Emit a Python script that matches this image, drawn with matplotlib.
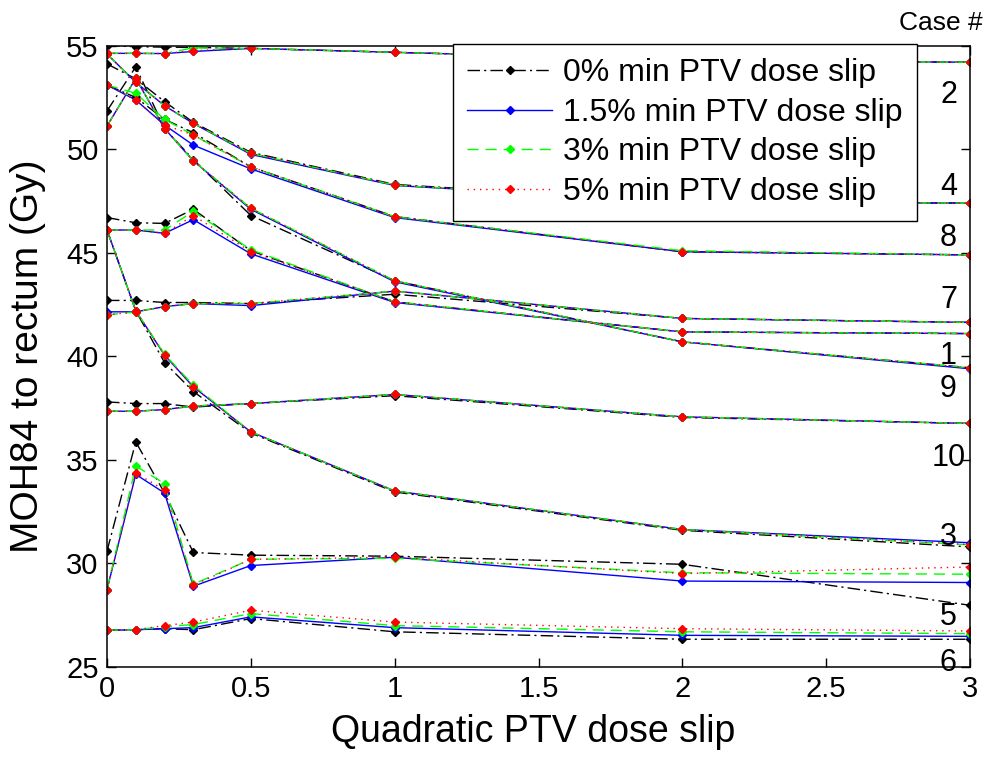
import matplotlib
matplotlib.use('Agg')
from matplotlib import pyplot as plt

# Quadratic PTV dose slip values (x axis)
slip = [0, 0.1, 0.2, 0.3, 0.5, 1, 2, 3]

# MOH84 per case, rows: 0%, 1.5%, 3%, 5% min PTV dose slip
case_2 = [[55.0, 54.95, 54.93, 54.92, 54.87, 54.68, 54.3, 54.2],
          [54.63, 54.63, 54.62, 54.72, 54.87, 54.68, 54.3, 54.2],
          [54.63, 54.63, 54.62, 54.9, 54.87, 54.68, 54.3, 54.2],
          [54.63, 54.63, 54.62, 54.76, 54.87, 54.68, 54.3, 54.2]]
case_4 = [[54.12, 53.4, 52.3, 51.3, 49.85, 48.3, 47.45, 47.4],
          [54.6, 53.23, 52.1, 51.25, 49.75, 48.25, 47.45, 47.4],
          [54.6, 53.23, 52.1, 51.25, 49.8, 48.27, 47.45, 47.4],
          [54.6, 53.23, 52.1, 51.25, 49.8, 48.27, 47.45, 47.4]]
case_8 = [[53.1, 52.5, 51.44, 50.8, 49.15, 46.75, 45.05, 44.9],
          [53.1, 52.38, 51.17, 50.2, 49.05, 46.7, 45.05, 44.9],
          [53.1, 52.7, 51.44, 50.69, 49.15, 46.74, 45.1, 44.9],
          [53.1, 52.38, 51.17, 50.69, 49.15, 46.74, 45.05, 44.9]]
case_9 = [[51.85, 53.98, 51.0, 49.5, 46.8, 43.65, 40.7, 39.45],
          [51.12, 53.42, 51.0, 49.44, 47.1, 43.6, 40.7, 39.4],
          [51.12, 53.42, 51.0, 49.44, 47.15, 43.65, 40.7, 39.45],
          [51.12, 53.42, 51.0, 49.44, 47.15, 43.65, 40.7, 39.45]]
case_1 = [[46.7, 46.45, 46.42, 47.1, 45.1, 42.63, 41.18, 41.1],
          [46.1, 46.1, 45.94, 46.6, 44.95, 42.6, 41.18, 41.1],
          [46.1, 46.1, 46.1, 47.0, 45.15, 42.63, 41.18, 41.1],
          [46.1, 46.1, 45.94, 46.8, 45.05, 42.63, 41.18, 41.1]]
case_7 = [[42.7, 42.7, 42.6, 42.6, 42.55, 43.0, 41.83, 41.64],
          [42.15, 42.15, 42.4, 42.55, 42.45, 43.15, 41.83, 41.64],
          [42.0, 42.15, 42.4, 42.55, 42.55, 43.15, 41.83, 41.64],
          [42.0, 42.15, 42.4, 42.55, 42.55, 43.15, 41.83, 41.64]]
case_10 = [[37.8, 37.72, 37.72, 37.55, 37.72, 38.1, 37.05, 36.76],
           [37.35, 37.35, 37.43, 37.6, 37.72, 38.16, 37.08, 36.76],
           [37.35, 37.35, 37.43, 37.6, 37.72, 38.16, 37.08, 36.76],
           [37.35, 37.35, 37.43, 37.6, 37.72, 38.16, 37.08, 36.76]]
case_3 = [[46.1, 42.2, 39.7, 38.3, 36.3, 33.45, 31.6, 30.8],
          [46.1, 42.2, 40.06, 38.53, 36.35, 33.5, 31.64, 31.0],
          [46.1, 42.2, 40.1, 38.6, 36.35, 33.5, 31.64, 30.9],
          [46.1, 42.2, 40.06, 38.53, 36.35, 33.5, 31.64, 30.91]]
case_5 = [[30.6, 35.87, 33.4, 30.53, 30.4, 30.35, 29.96, 27.98],
          [28.74, 34.3, 33.4, 28.9, 29.9, 30.3, 29.15, 29.08],
          [28.74, 34.7, 33.86, 29.0, 30.2, 30.25, 29.55, 29.48],
          [28.74, 34.37, 33.54, 28.95, 30.2, 30.3, 29.51, 29.83]]
case_6 = [[26.77, 26.8, 26.85, 26.8, 27.34, 26.7, 26.34, 26.34],
          [26.77, 26.8, 26.85, 26.9, 27.42, 26.9, 26.53, 26.48],
          [26.77, 26.8, 26.95, 27.05, 27.58, 27.0, 26.7, 26.61],
          [26.77, 26.8, 27.0, 27.17, 27.74, 27.17, 26.85, 26.74]]

series_labels = ['0% min PTV dose slip', '1.5% min PTV dose slip',
                 '3% min PTV dose slip', '5% min PTV dose slip']

# Case number labels on the right side and their heights
case_names = ['2', '4', '8', '7', '1', '9', '10', '3', '5', '6']
case_label_y = [52.6, 48.17, 45.7, 42.7, 40.0, 38.4, 35.08, 31.27, 27.4, 25.2]

cases = [case_2, case_4, case_8, case_9, case_1, case_7, case_10, case_3, case_5, case_6]

plt.rcParams['font.family'] = ['Liberation Sans', 'DejaVu Sans']

fig = plt.figure(figsize=(10.02, 7.59), dpi=100)
ax = fig.add_axes([0.1068, 0.1212, 0.8613, 0.8186])

styles = [
    dict(color='black', dashes=(9, 3, 1.5, 3)),
    dict(color='blue', linestyle='-'),
    dict(color='#00ff00', dashes=(8, 5)),
    dict(color='red', dashes=(1, 3.5)),
]

# black first, red last (on top), like the original
for i, st in enumerate(styles):
    for j, c in enumerate(cases):
        ax.plot(slip, c[i], lw=1.0, marker='D', ms=3.8, mec=st['color'],
                mfc=st['color'], label=series_labels[i] if j == 0 else None, **st)

ax.set_xlim(0, 3)
ax.set_ylim(25, 55)
ax.set_xticks([0, 0.5, 1, 1.5, 2, 2.5, 3])
ax.set_xticklabels(['0', '0.5', '1', '1.5', '2', '2.5', '3'])
ax.set_yticks([25, 30, 35, 40, 45, 50, 55])
ax.tick_params(direction='in', length=6.5, width=1, top=True, right=True,
               labelsize=21, pad=6)
for sp in ax.spines.values():
    sp.set_linewidth(1.1)

ax.set_xlabel('Quadratic PTV dose slip', fontsize=27)
ax.set_ylabel('MOH84 to rectum (Gy)', fontsize=28)
ax.xaxis.set_label_coords(0.494, -0.075)
ax.yaxis.set_label_coords(-0.071, 0.5)

# Case numbers next to the right axis
for name, y in zip(case_names, case_label_y):
    ax.text(2.925, y, name, fontsize=22, ha='center', va='center', clip_on=False)
ax.text(2.9, 56.1, 'Case #', fontsize=19, ha='center', va='center', clip_on=False)

leg = ax.legend(loc='upper right', bbox_to_anchor=(0.9386, 1.003), borderaxespad=0,
                fontsize=23, handlelength=2.65, labelspacing=0.3, fancybox=False,
                framealpha=1, edgecolor='black', borderpad=0.45, handletextpad=0.35)
leg.get_frame().set_linewidth(1.0)

fig.savefig('out.png', dpi=100)
